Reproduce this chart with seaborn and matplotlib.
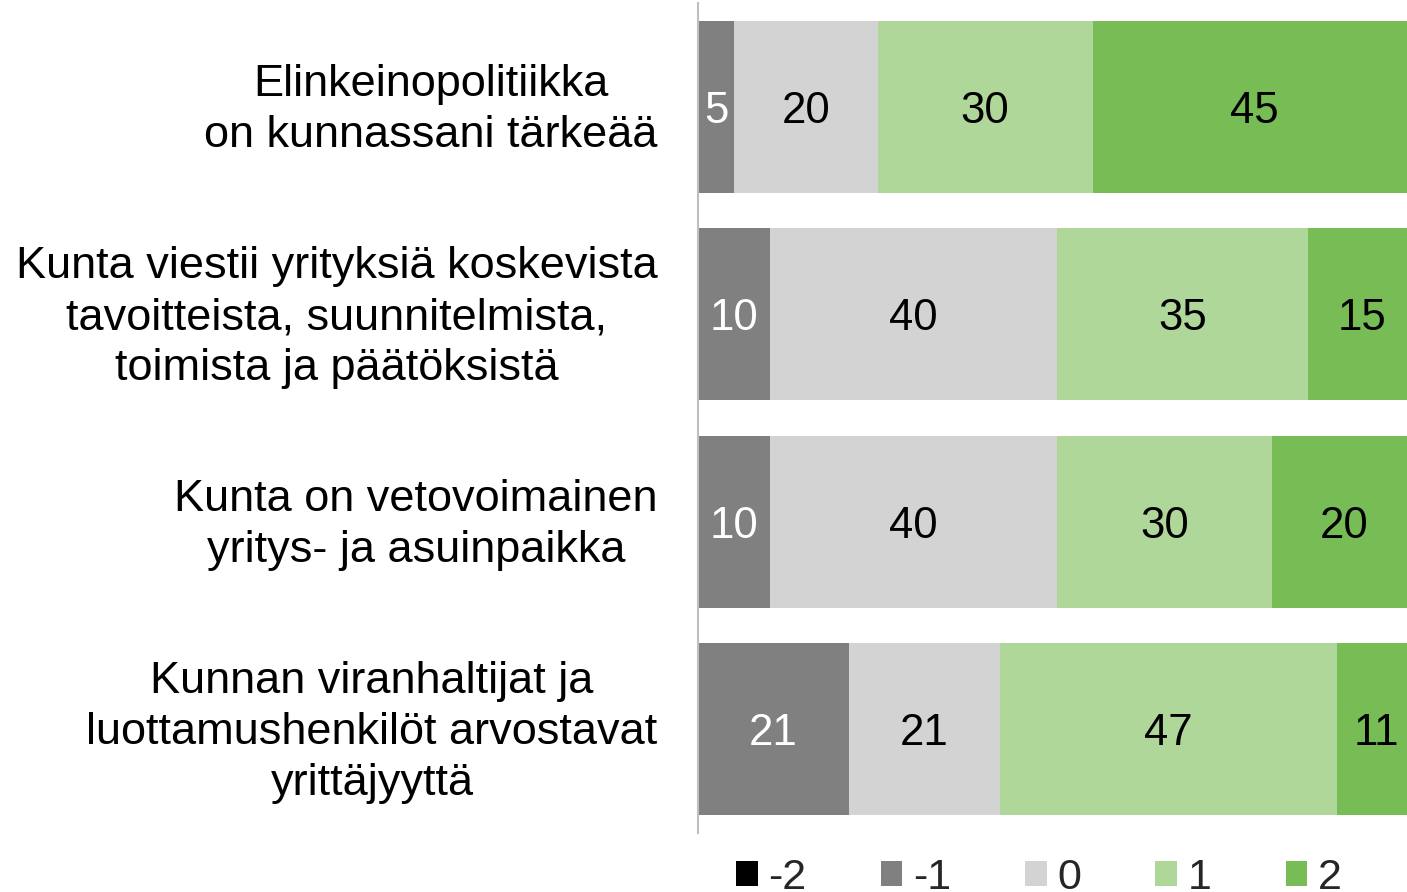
import matplotlib
matplotlib.use("Agg")
import matplotlib.pyplot as plt
import matplotlib.transforms as mtransforms
import numpy as np
import pandas as pd
import seaborn as sns

# Väittämät (y-akselin nimikkeet)
statements = [
    "Elinkeinopolitiikka\non kunnassani tärkeää",
    "Kunta viestii yrityksiä koskevista\ntavoitteista, suunnitelmista,\ntoimista ja päätöksistä",
    "Kunta on vetovoimainen\nyritys- ja asuinpaikka",
    "Kunnan viranhaltijat ja\nluottamushenkilöt arvostavat\nyrittäjyyttä",
]

# Vastausjakaumat (%) asteikolla -2 ... 2
scale_labels = ["-2", "-1", "0", "1", "2"]
share_m2 = [0, 0, 0, 0]
share_m1 = [5, 10, 10, 21]
share_0 = [20, 40, 40, 21]
share_p1 = [30, 35, 30, 47]
share_p2 = [45, 15, 20, 11]

colors = ["#000000", "#808080", "#d3d3d3", "#afd79a", "#77bc55"]
text_colors = ["white", "white", "black", "black", "black"]

shares = pd.DataFrame(
    {"-2": share_m2, "-1": share_m1, "0": share_0, "1": share_p1, "2": share_p2},
    index=statements,
)
cumulative = shares.cumsum(axis=1)

sns.set_style("white")
plt.rcParams["font.family"] = ["Liberation Sans", "DejaVu Sans"]

fig = plt.figure(figsize=(14.07, 8.92), dpi=100)
ax = fig.add_axes([698 / 1407, 59 / 892, 718 / 1407, 830 / 892])

# Pinotut palkit: piirretään kumulatiiviset summat suurimmasta pienimpään
for label, color in reversed(list(zip(scale_labels, colors))):
    sns.barplot(
        x=cumulative[label].values,
        y=statements,
        orient="h",
        color=color,
        width=0.83,
        linewidth=0,
        saturation=1,
        label=label,
        ax=ax,
    )

for i, statement in enumerate(statements):
    for label, tcolor in zip(scale_labels, text_colors):
        value = shares.loc[statement, label]
        if value <= 0:
            continue
        center = cumulative.loc[statement, label] - value / 2
        ax.text(center, i, f"{value}", ha="center", va="center_baseline",
                fontsize=31.5, color=tcolor)

ax.set_xlim(0, 100)
ax.set_ylim(3.5, -0.5)
ax.set_xlabel("")
ax.set_ylabel("")
ax.xaxis.set_visible(False)
for side in ["top", "right", "bottom"]:
    ax.spines[side].set_visible(False)
ax.spines["left"].set_color("#bfbfbf")
ax.spines["left"].set_linewidth(1.5)
ax.tick_params(axis="y", length=0, pad=29, labelsize=32.5, labelcolor="black")
lift = mtransforms.ScaledTranslation(0, 6 / 100, fig.dpi_scale_trans)
for tick in ax.get_yticklabels():
    tick.set_multialignment("center")
    tick.set_linespacing(1.3)
    tick.set_transform(tick.get_transform() + lift)

h, l = ax.get_legend_handles_labels()
if ax.get_legend() is not None:
    ax.get_legend().remove()
order = [l.index(s) for s in scale_labels]
fig.legend(
    [h[k] for k in order],
    [l[k] for k in order],
    loc="center",
    bbox_to_anchor=(1039 / 1407, 0.016),
    ncol=5,
    frameon=False,
    fontsize=31,
    handlelength=0.5,
    handleheight=0.5,
    handletextpad=0.25,
    columnspacing=1.72,
)

fig.savefig("out.png", dpi=100)
plt.close(fig)
